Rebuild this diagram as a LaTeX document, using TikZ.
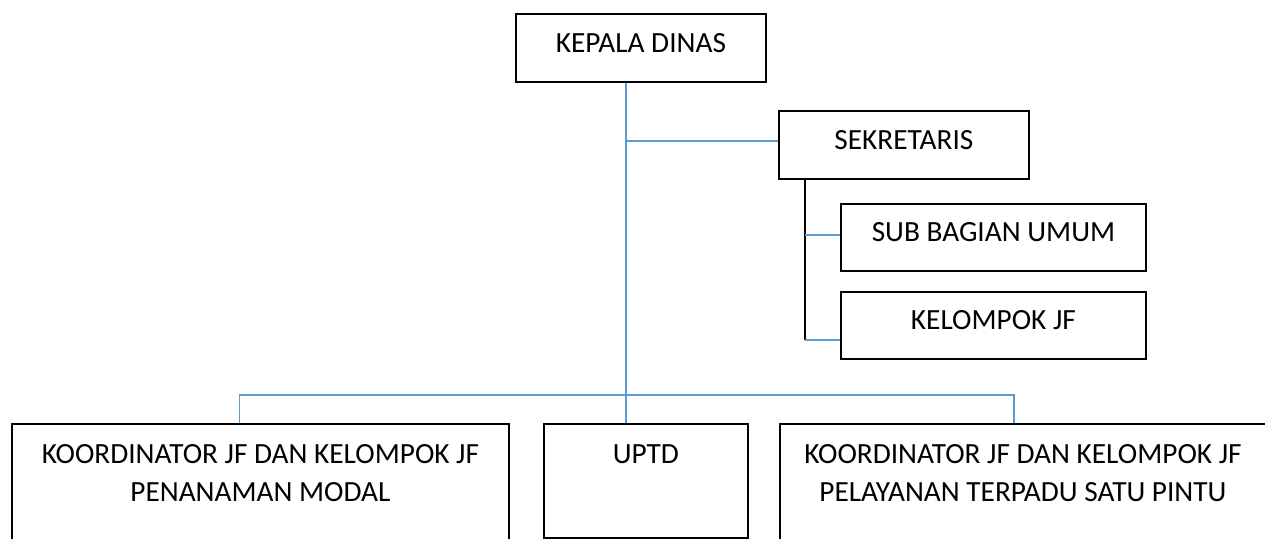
\documentclass[tikz,border=0pt]{standalone}
\usepackage{fontspec}
\setmainfont{Carlito}
\usetikzlibrary{calc, positioning}
\definecolor{linkblue}{HTML}{5B9BD5}

\begin{document}
\begin{tikzpicture}[x=1pt,y=-1pt,
  orgbox/.style={draw=black,line width=1.8pt,fill=white,inner sep=0pt,anchor=north west,
    font=\fontsize{29.3}{38}\selectfont,text height=20pt,text depth=11pt},
  boxtext/.style={inner sep=0pt,anchor=north,align=center,font=\fontsize{29.3}{38}\selectfont},
  link/.style={draw=linkblue,line width=1.2pt},
  spine/.style={draw=black,line width=1.8pt}]
\useasboundingbox (0,0) rectangle (1265,538);
\clip (0,0) rectangle (1265,538);
\node[orgbox,minimum width=250pt,minimum height=68pt] (kd) at (515,13) {KEPALA DINAS};
\node[orgbox,minimum width=250pt,minimum height=68pt] (sek) at (778,110) {SEKRETARIS};
\node[orgbox,minimum width=305pt,minimum height=67pt] (sbu) at (840,203) {SUB BAGIAN UMUM};
\node[orgbox,minimum width=305pt,minimum height=67pt] (kjf) at (840,291) {KELOMPOK JF};
\node[orgbox,minimum width=497pt,minimum height=150pt] (pm) at (11,423) {};
\node[orgbox,minimum width=204pt,minimum height=114pt] (uptd) at (543,423) {};
\node[orgbox,minimum width=492pt,minimum height=150pt] (pt) at (779,423) {};
\node[boxtext,yshift=-21pt] (pmtext) at (pm.north) {KOORDINATOR JF DAN KELOMPOK JF\\PENANAMAN MODAL};
\node[boxtext,yshift=-21pt] (uptdtext) at (uptd.north) {UPTD};
\node[boxtext,yshift=-21pt] (pttext) at ([xshift=-3pt]pt.north) {KOORDINATOR JF DAN KELOMPOK JF\\PELAYANAN TERPADU SATU PINTU};
\coordinate (bus) at ([xshift=-15pt]kd.south |- 0,395);
\coordinate (sj) at ([xshift=27pt]sek.south west);
\draw[link] ([xshift=-15pt]kd.south) -- (bus) -- (bus |- uptd.north);
\draw[link] (bus |- sek.west) ++(0,-4) -- ([yshift=4pt]sek.west);
\draw[link] ([xshift=-21pt]pm.north) |- (bus) -| ([xshift=-12pt]pt.north);
\draw[spine] (sj) -- (sj |- 0,340);
\draw[link] (sj |- 0,235) -- (sbu.west |- 0,235);
\draw[link] (sj |- 0,340) -- (kjf.west |- 0,340);
\end{tikzpicture}
\end{document}
